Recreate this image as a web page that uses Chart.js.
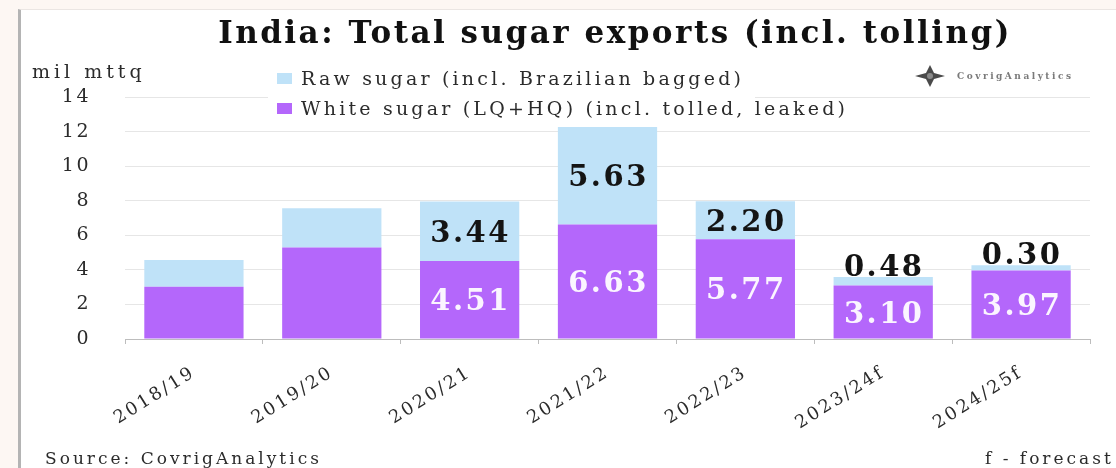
<!DOCTYPE html>
<html>
<head>
<meta charset="utf-8">
<title>India: Total sugar exports (incl. tolling)</title>
<script src="https://cdn.jsdelivr.net/npm/chart.js@4.4.1/dist/chart.umd.min.js"></script>
<style>
  html, body { margin: 0; padding: 0; background: #fdf7f3; width: 1116px; height: 468px; overflow: hidden; }
  #panel {
    position: absolute; left: 18px; top: 9px; width: 1110px; height: 470px;
    background: #ffffff; border-left: 3px solid #b4b4b4; border-top: 1px solid #ebe6e3;
  }
  #wrap { position: absolute; left: 0; top: 0; width: 1116px; height: 468px; }
</style>
</head>
<body>
<div id="panel"></div>
<div id="wrap"><canvas id="chart" width="1116" height="468"></canvas></div>
<script>
// Seasons and export volumes (million tonnes, tel quel)
const seasons = ['2018/19', '2019/20', '2020/21', '2021/22', '2022/23', '2023/24f', '2024/25f'];
const whiteSugar = [3.02, 5.30, 4.51, 6.63, 5.77, 3.10, 3.97];
const rawSugar = [1.55, 2.26, 3.44, 5.63, 2.20, 0.48, 0.30];
// Seasons whose segment values are printed on the bars
const labelledSeasons = ['2020/21', '2021/22', '2022/23', '2023/24f', '2024/25f'];

const seriesNames = {
  white: 'White sugar (LQ+HQ) (incl. tolled, leaked)',
  raw: 'Raw sugar (incl. Brazilian bagged)'
};
const titleText = 'India: Total sugar exports (incl. tolling)';
const unitText = 'mil mttq';
const sourceText = 'Source: CovrigAnalytics';
const noteText = 'f - forecast';
const brandText = 'CovrigAnalytics';

const COLORS = { white: '#b467fb', raw: '#bfe2f8', grid: '#e6e6e6', axis: '#bdbdbd', text: '#2b2b2b' };
const SERIF = '"DejaVu Serif", "Liberation Serif", serif';
const TICK_SPACING = '2.5px';

function spacedText(ctx, text, x, y, font, color, spacing, align, baseline) {
  ctx.save();
  ctx.font = font;
  ctx.fillStyle = color;
  ctx.letterSpacing = spacing;
  ctx.textAlign = align || 'left';
  ctx.textBaseline = baseline || 'alphabetic';
  ctx.fillText(text, x, y);
  ctx.restore();
}

// Tick labels use a little tracking, so set it before layout measures them and before drawing.
const trackingPlugin = {
  id: 'tracking',
  beforeUpdate(chart) { chart.ctx.letterSpacing = TICK_SPACING; },
  beforeLayout(chart) { chart.ctx.letterSpacing = TICK_SPACING; },
  beforeDraw(chart) { chart.ctx.letterSpacing = TICK_SPACING; }
};

// Title, unit caption, legend, brand mark and footer notes
const decorPlugin = {
  id: 'decor',
  afterDraw(chart) {
    const ctx = chart.ctx;

    spacedText(ctx, titleText, 615, 43, 'bold 31px ' + SERIF, '#111', '2.5px', 'center');
    spacedText(ctx, unitText, 32, 78, '19px ' + SERIF, COLORS.text, '4px', 'left');

    // legend, top entry is the upper stack
    ctx.save();
    ctx.fillStyle = '#ffffff';
    ctx.fillRect(268, 63, 487, 56);
    ctx.restore();
    const order = [1, 0];
    order.forEach((dsIndex, row) => {
      const ds = chart.data.datasets[dsIndex];
      const cy = 79 + row * 30;
      ctx.save();
      ctx.fillStyle = ds.backgroundColor;
      ctx.fillRect(277, cy - 6, 15, 11);
      ctx.restore();
      spacedText(ctx, ds.label, 301, cy + 6, '19px ' + SERIF, COLORS.text, '3.2px', 'left');
    });

    // brand mark: four-point star with a small hub
    const bx = 930, by = 76;
    ctx.save();
    ctx.fillStyle = '#4a4a4a';
    ctx.beginPath();
    ctx.moveTo(bx - 15, by);
    ctx.lineTo(bx - 4, by - 3);
    ctx.lineTo(bx, by - 11);
    ctx.lineTo(bx + 4, by - 3);
    ctx.lineTo(bx + 15, by);
    ctx.lineTo(bx + 4, by + 3);
    ctx.lineTo(bx, by + 11);
    ctx.lineTo(bx - 4, by + 3);
    ctx.closePath();
    ctx.fill();
    ctx.fillStyle = '#8a8a8a';
    ctx.beginPath();
    ctx.arc(bx, by, 3, 0, Math.PI * 2);
    ctx.fill();
    ctx.restore();
    spacedText(ctx, brandText, 957, 79, 'bold 9px ' + SERIF, '#7a7a7a', '2.5px', 'left');

    spacedText(ctx, sourceText, 45, 464, '17px ' + SERIF, COLORS.text, '3px', 'left');
    spacedText(ctx, noteText, 985, 464, '17px ' + SERIF, COLORS.text, '3px', 'left');
  }
};

// Segment values printed on the labelled bars
const valueLabelPlugin = {
  id: 'valueLabels',
  afterDatasetsDraw(chart) {
    const ctx = chart.ctx;
    const size = 29;
    const font = 'bold ' + size + 'px ' + SERIF;
    const capHalf = size * 0.365;
    const whiteMeta = chart.getDatasetMeta(0);
    const rawMeta = chart.getDatasetMeta(1);
    seasons.forEach((season, i) => {
      if (!labelledSeasons.includes(season)) return;
      const wb = whiteMeta.data[i];
      spacedText(ctx, whiteSugar[i].toFixed(2), wb.x + 1, (wb.y + wb.base) / 2 + capHalf,
        font, '#fbf5ff', '2.5px', 'center');
      const rb = rawMeta.data[i];
      const h = rb.base - rb.y;
      const y = h >= 34 ? (rb.y + rb.base) / 2 + capHalf : rb.y - 1;
      spacedText(ctx, rawSugar[i].toFixed(2), rb.x + 1, y, font, '#141414', '2.5px', 'center');
    });
  }
};

new Chart(document.getElementById('chart'), {
  type: 'bar',
  data: {
    labels: seasons,
    datasets: [
      { label: seriesNames.white, data: whiteSugar, backgroundColor: COLORS.white },
      { label: seriesNames.raw, data: rawSugar, backgroundColor: COLORS.raw }
    ]
  },
  options: {
    responsive: false,
    animation: false,
    events: [],
    layout: { padding: { top: 97, right: 26, left: 0, bottom: 0 } },
    datasets: { bar: { categoryPercentage: 1, barPercentage: 0.72, borderWidth: 0 } },
    plugins: { legend: { display: false }, title: { display: false }, tooltip: { enabled: false } },
    scales: {
      x: {
        stacked: true,
        grid: { drawOnChartArea: false, drawTicks: true, tickLength: 5, color: COLORS.axis },
        border: { color: COLORS.axis },
        ticks: {
          color: COLORS.text, padding: 18, minRotation: 32, maxRotation: 32,
          font: { family: SERIF, size: 18 }
        },
        afterFit(scale) { scale.height = 129; }
      },
      y: {
        stacked: true,
        min: 0, max: 14,
        grid: { color: COLORS.grid, drawTicks: false, lineWidth: 1 },
        border: { display: false },
        ticks: {
          stepSize: 2, padding: 34, color: COLORS.text,
          font: { family: SERIF, size: 19 }
        },
        afterFit(scale) { scale.width = 125; }
      }
    }
  },
  plugins: [trackingPlugin, valueLabelPlugin, decorPlugin]
});
</script>
</body>
</html>
